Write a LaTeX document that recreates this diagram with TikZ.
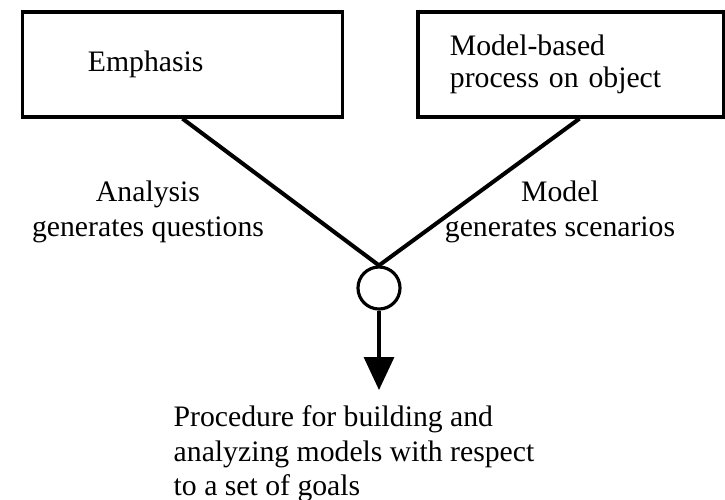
\documentclass[tikz,border=0pt]{standalone}
\usepackage{fontspec}
\setmainfont{Liberation Serif}
\usetikzlibrary{arrows.meta, positioning, calc}

\begin{document}
\begin{tikzpicture}[
    x=0.01cm, y=-0.01cm,
    box/.style={rectangle, draw=black, line width=0.9pt, minimum height=1.05cm, align=left, font=\fontsize{8.45pt}{9.1pt}\selectfont},
    lbl/.style={align=center, inner sep=0pt, font=\fontsize{8.45pt}{9.8pt}\selectfont},
    goalnote/.style={align=left, inner xsep=0pt, inner ysep=0.15cm, font=\fontsize{8.45pt}{9.8pt}\selectfont},
    joint/.style={circle, draw=black, line width=0.9pt, minimum size=0.42cm, inner sep=0pt},
    line/.style={draw=black, line width=1.15pt},
    arrow/.style={draw=black, line width=0.9pt, -{Triangle[length=0.33cm, width=0.30cm]}}
]
\useasboundingbox (0,0) rectangle (725,499);

% Nodes
\node[box, minimum width=3.19cm, text width=1.89cm, inner xsep=0.65cm] (emph) at (182.5,64.5) {Emphasis};
\node[box, minimum width=3.05cm, text width=2.41cm, inner xsep=0.32cm] (model) at (570.5,64.5) {Model-based\\process on object};

\node[joint] (junc) at (379,288) {};

\node[lbl] (ana) at (148,212) {Analysis\\generates questions};
\node[lbl] (mgen) at (560,212) {Model\\generates scenarios};

\node[goalnote, anchor=north west] (goal) at (173,390) {Procedure for building and\\analyzing models with respect\\to a set of goals};

% Lines
\draw[line] (emph.south) -- (junc.north);
\draw[line] ([xshift=0.09cm]model.south) -- (junc.north);
\draw[arrow] (junc.south) -- (junc.south |- goal.north);

\end{tikzpicture}
\end{document}
